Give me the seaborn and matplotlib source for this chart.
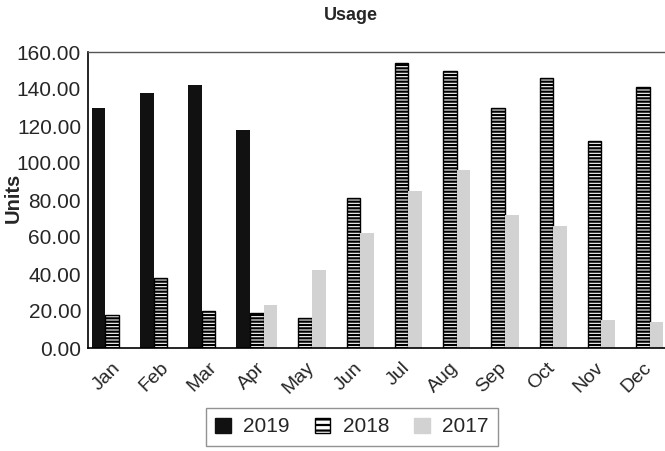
import numpy as np
import pandas as pd
import matplotlib
matplotlib.use("Agg")
import matplotlib.pyplot as plt
from matplotlib.patches import Patch
import seaborn as sns

months = ["Jan", "Feb", "Mar", "Apr", "May", "Jun",
          "Jul", "Aug", "Sep", "Oct", "Nov", "Dec"]
years = ["2019", "2018", "2017"]
nan = np.nan
usage_2019 = [130, 138, 142, 118, nan, nan, nan, nan, nan, nan, nan, nan]
usage_2018 = [18, 38, 20, 19, 16, 81, 154, 150, 130, 146, 112, 141]
usage_2017 = [nan, nan, nan, 23, 42, 62, 85, 96, 72, 66, 15, 14]
y_ticks = [0, 20, 40, 60, 80, 100, 120, 140, 160]

df = pd.DataFrame({
    "Month": months * 3,
    "Year": ["2019"] * 12 + ["2018"] * 12 + ["2017"] * 12,
    "Units": usage_2019 + usage_2018 + usage_2017,
}).dropna()

sns.set_theme(style="white")
plt.rcParams["font.family"] = ["Liberation Sans", "DejaVu Sans"]
plt.rcParams["hatch.linewidth"] = 1.6
plt.rcParams["hatch.color"] = "black"

fill = {"2019": "#111111", "2018": "white", "2017": "#d2d2d2"}

fig = plt.figure(figsize=(6.65, 4.51), dpi=100)
ax = fig.add_axes([88 / 665, 103 / 451, 579 / 665, 296 / 451])

sns.barplot(data=df, x="Month", y="Units", hue="Year", order=months,
            hue_order=years, palette=fill, width=0.85, ax=ax,
            legend=False, saturation=1)

for year, cont in zip(years, ax.containers):
    for bar in cont:
        if year == "2018":
            bar.set_hatch("-----")
            bar.set_edgecolor("black")
            bar.set_linewidth(1.0)
        else:
            bar.set_edgecolor(fill[year])
            bar.set_linewidth(0)

ax.set_xlim(-0.5, 11.5)
ax.set_ylim(0, 160)
ax.set_yticks(y_ticks)
ax.set_yticklabels([f"{v:.2f}" for v in y_ticks], fontsize=15)
ax.set_xticks(range(len(months)))
ax.set_xticklabels(months, fontsize=14, rotation=45, ha="right",
                   rotation_mode="anchor")
ax.tick_params(axis="both", length=0)
ax.tick_params(axis="y", pad=5)
ax.tick_params(axis="x", pad=8)
ax.set_xlabel("")
ax.set_ylabel("")

ax.spines["right"].set_visible(False)
ax.spines["left"].set_color("black")
ax.spines["left"].set_linewidth(1.2)
ax.spines["bottom"].set_color("black")
ax.spines["bottom"].set_linewidth(1.2)
ax.spines["top"].set_color("#555555")
ax.spines["top"].set_linewidth(1.0)

fig.text(351 / 665, 1 - 16 / 451, "Usage", ha="center", va="center",
         fontsize=13, fontweight="bold")
fig.text(13 / 665, 1 - 198 / 451, "Units", ha="center", va="center",
         rotation=90, fontsize=14.5, fontweight="bold")

handles = [
    Patch(facecolor=fill["2019"], edgecolor=fill["2019"], label="2019"),
    Patch(facecolor="white", edgecolor="black", hatch="---", label="2018"),
    Patch(facecolor=fill["2017"], edgecolor=fill["2017"], label="2017"),
]
leg = fig.legend(handles=handles, loc="center", ncol=3,
                 bbox_to_anchor=(352 / 665, 1 - 427 / 451),
                 fontsize=15, frameon=True, fancybox=False,
                 handlelength=0.75, handleheight=0.75, handletextpad=0.6,
                 columnspacing=1.2, borderpad=0.45)
leg.get_frame().set_edgecolor("#777777")
leg.get_frame().set_linewidth(1.0)

fig.savefig("out.png", dpi=100)
